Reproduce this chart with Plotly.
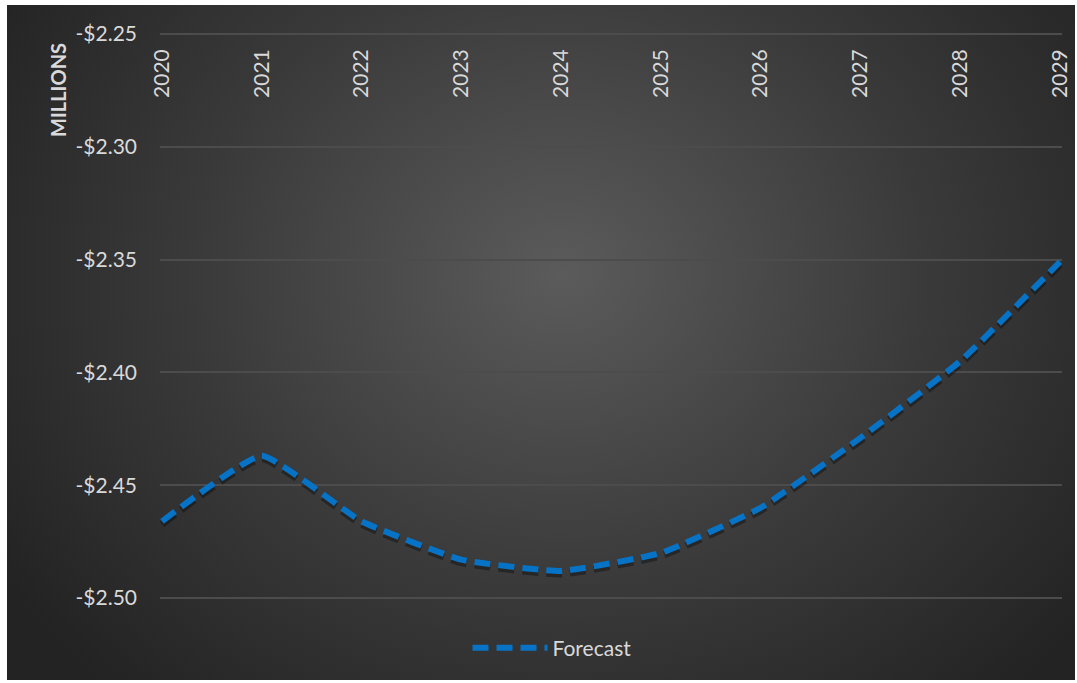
import plotly.graph_objects as go

# Forecast values (millions of dollars)
years = ["2020", "2021", "2022", "2023", "2024", "2025", "2026", "2027", "2028", "2029"]
forecast = [-2.466, -2.437, -2.466, -2.483, -2.488, -2.480, -2.460, -2.429, -2.395, -2.351]
y_ticks = [-2.50, -2.45, -2.40, -2.35, -2.30, -2.25]
y_tick_text = ["-$2.50", "-$2.45", "-$2.40", "-$2.35", "-$2.30", "-$2.25"]

W, H = 1077, 683
# data area (pixels) spanned by the first/last category and the first/last y tick
DL, DR, DT, DB = 162, 1060, 34, 598
PAD = 2  # px of breathing room so edge ticks and gridlines are kept

ML, MR, MT, MB = DL - PAD, W - DR - PAD, DT - PAD, H - DB - PAD
plot_w = W - ML - MR
plot_h = H - MT - MB

y_span = y_ticks[-1] - y_ticks[0]
y_pad = PAD * y_span / (DB - DT)
x_pad = PAD * (len(years) - 1) / (DR - DL)

# Dark chart area with a soft radial glow in the middle
card = dict(x0=7, y0=5, x1=1075, y1=680)
cw, ch = card["x1"] - card["x0"], card["y1"] - card["y0"]
svg = (
    f"<svg xmlns='http://www.w3.org/2000/svg' width='{cw}' height='{ch}' viewBox='0 0 {cw} {ch}' preserveAspectRatio='none'>"
    "<defs><radialGradient id='g' gradientUnits='userSpaceOnUse' "
    f"cx='{cw*0.52:.0f}' cy='{ch*0.40:.0f}' r='{cw*0.62:.0f}' "
    f"gradientTransform='translate({cw*0.52:.0f} {ch*0.40:.0f}) scale(1 0.85) translate({-cw*0.52:.0f} {-ch*0.40:.0f})'>"
    "<stop offset='0' stop-color='#5b5b5b'/>"
    "<stop offset='0.55' stop-color='#3a3a3a'/>"
    "<stop offset='1' stop-color='#232323'/>"
    "</radialGradient></defs>"
    f"<rect width='{cw}' height='{ch}' fill='url(#g)'/></svg>"
)
bg_src = "data:image/svg+xml;charset=utf-8," + svg.replace("#", "%23").replace("<", "%3C").replace(">", "%3E")

FONT = "Lato, 'Open Sans', sans-serif"
TXT = "#d9d9d9"
BLUE = "#0673c6"
DASH = "16px,8px"
SMOOTH = 0.4

# shadow offset of ~3 px expressed in data units
shadow_shift = 3 * y_span / (DB - DT)


def px_to_paper_x(px):
    return (px - ML) / plot_w


def px_to_paper_y(py):
    return (H - MB - py) / plot_h


fig = go.Figure()
fig.add_trace(go.Scatter(
    x=years, y=[v - shadow_shift for v in forecast], mode="lines",
    line=dict(color="rgba(0,0,0,0.35)", width=7, dash=DASH, shape="spline", smoothing=SMOOTH),
    hoverinfo="skip", showlegend=False,
))
fig.add_trace(go.Scatter(
    x=years, y=forecast, mode="lines", name="Forecast",
    line=dict(color=BLUE, width=6, dash=DASH, shape="spline", smoothing=SMOOTH),
))

fig.update_layout(
    width=W, height=H,
    margin=dict(l=ML, r=MR, t=MT, b=MB, autoexpand=False),
    paper_bgcolor="white",
    plot_bgcolor="rgba(0,0,0,0)",
    font=dict(family=FONT, color=TXT, size=21),
    images=[dict(
        source=bg_src, xref="paper", yref="paper",
        x=px_to_paper_x(card["x0"]), y=px_to_paper_y(card["y0"]),
        sizex=cw / plot_w, sizey=ch / plot_h,
        xanchor="left", yanchor="top", sizing="stretch", layer="below",
    )],
    # category axis drawn along the top edge, labels hanging down into the plot
    xaxis=dict(
        type="category", side="bottom", anchor="free", position=px_to_paper_y(DT),
        range=[-x_pad, len(years) - 1 + x_pad], automargin=False,
        tickangle=-90, ticks="", ticklabelstandoff=10,
        showgrid=False, showline=False, zeroline=False,
        tickfont=dict(family=FONT, color=TXT, size=21),
    ),
    yaxis=dict(
        range=[y_ticks[0] - y_pad, y_ticks[-1] + y_pad], tickvals=y_ticks, ticktext=y_tick_text,
        showgrid=True, gridcolor="#4c4c4c", gridwidth=1.5, automargin=False,
        zeroline=False, showline=False, ticklabelstandoff=22,
        tickfont=dict(family=FONT, color=TXT, size=21),
    ),
    legend=dict(
        orientation="h", x=px_to_paper_x(552), y=px_to_paper_y(648),
        xanchor="center", yanchor="middle", bgcolor="rgba(0,0,0,0)",
        font=dict(family=FONT, color=TXT, size=21), itemwidth=75,
    ),
    annotations=[dict(
        text="<b>MILLIONS</b>", xref="paper", yref="paper",
        x=px_to_paper_x(58), y=px_to_paper_y(90),
        textangle=-90, showarrow=False, xanchor="center", yanchor="middle",
        font=dict(family=FONT, color=TXT, size=20),
    )],
)

fig.write_html("out.html")
